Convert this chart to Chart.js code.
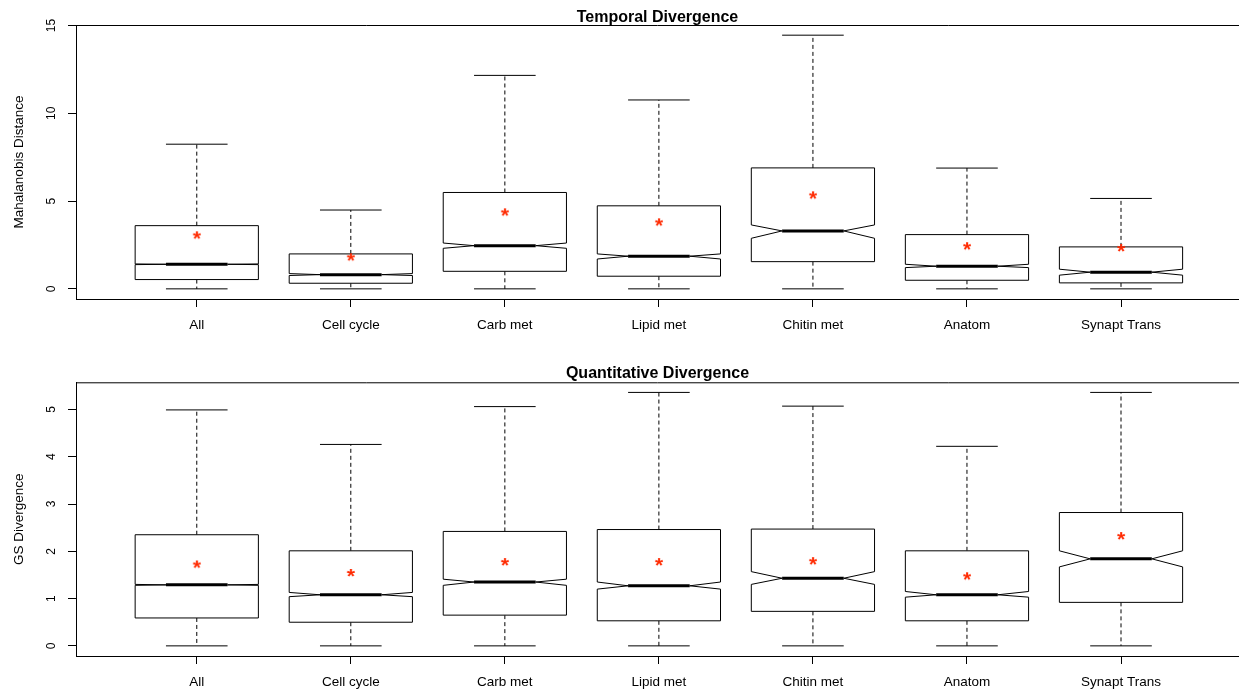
<!DOCTYPE html>
<html>
<head>
<meta charset="utf-8">
<script src="https://cdn.jsdelivr.net/npm/chart.js@4"></script>
<style>
  html, body { margin: 0; padding: 0; background: #fff; overflow: hidden; }
  #wrap { position: relative; width: 1239px; height: 690px; }
  #wrap canvas { position: absolute; left: 0; }
</style>
</head>
<body>
<div id="wrap">
  <canvas id="temporalChart" width="1239" height="345" style="top:0"></canvas>
  <canvas id="quantChart" width="1239" height="345" style="top:345px"></canvas>
</div>
<script>
const categories = ['All', 'Cell cycle', 'Carb met', 'Lipid met', 'Chitin met', 'Anatom', 'Synapt Trans'];

// Temporal Divergence (Mahalanobis Distance)
const tMin     = [0, 0, 0, 0, 0, 0, 0];
const tQ1      = [0.53, 0.32, 1.00, 0.72, 1.55, 0.49, 0.34];
const tNotchLo = [1.38, 0.76, 2.31, 1.70, 2.88, 1.21, 0.78];
const tMedian  = [1.40, 0.81, 2.46, 1.86, 3.30, 1.29, 0.95];
const tNotchHi = [1.42, 0.87, 2.61, 1.99, 3.64, 1.40, 1.12];
const tQ3      = [3.60, 1.99, 5.49, 4.73, 6.89, 3.09, 2.39];
const tMax     = [8.24, 4.49, 12.16, 10.76, 14.45, 6.88, 5.15];
const tMean    = [2.99, 1.74, 4.30, 3.73, 5.27, 2.37, 2.27];
const tTicks   = [0, 5, 10, 15];

// Quantitative Divergence (GS Divergence)
const qMin     = [0, 0, 0, 0, 0, 0, 0];
const qQ1      = [0.59, 0.50, 0.65, 0.53, 0.73, 0.53, 0.92];
const qNotchLo = [1.28, 1.04, 1.28, 1.20, 1.30, 1.03, 1.67];
const qMedian  = [1.29, 1.08, 1.35, 1.27, 1.43, 1.08, 1.84];
const qNotchHi = [1.30, 1.13, 1.41, 1.35, 1.57, 1.15, 2.01];
const qQ3      = [2.35, 2.01, 2.42, 2.46, 2.47, 2.01, 2.82];
const qMax     = [4.99, 4.26, 5.06, 5.36, 5.07, 4.22, 5.36];
const qMean    = [1.70, 1.52, 1.75, 1.75, 1.77, 1.45, 2.30];
const qTicks   = [0, 1, 2, 3, 4, 5];

const FONT = '"Liberation Sans", Arial, Helvetica, sans-serif';
Chart.defaults.font.family = FONT;
Chart.defaults.color = '#000';

// red asterisk used as the mean marker
function makeStar() {
  const c = document.createElement('canvas');
  c.width = 20; c.height = 20;
  const g = c.getContext('2d');
  g.font = 'bold 21px ' + FONT;
  g.fillStyle = '#ff2a00';
  g.textAlign = 'center';
  g.textBaseline = 'alphabetic';
  const m = g.measureText('*');
  const base = 10 + (m.actualBoundingBoxAscent - m.actualBoundingBoxDescent) / 2 - 1.5;
  g.fillText('*', 10, base);
  return c;
}
const star = makeStar();

const notchedBoxes = {
  id: 'notchedBoxes',
  beforeDatasetsDraw(chart, args, opts) {
    const { ctx, chartArea, scales: { x, y } } = chart;
    const s = opts.stats;
    const py = v => y.getPixelForValue(v);
    ctx.save();
    ctx.strokeStyle = '#000';
    s.median.forEach((m, i) => {
      const p = i + 1;
      const xl = x.getPixelForValue(p - 0.4), xr = x.getPixelForValue(p + 0.4);
      const il = x.getPixelForValue(p - 0.2), ir = x.getPixelForValue(p + 0.2);
      const xc = x.getPixelForValue(p);
      // whiskers
      ctx.lineWidth = 1;
      ctx.setLineDash([4, 3]);
      ctx.beginPath();
      ctx.moveTo(xc, py(s.q3[i])); ctx.lineTo(xc, py(s.max[i]));
      ctx.moveTo(xc, py(s.q1[i])); ctx.lineTo(xc, py(s.min[i]));
      ctx.stroke();
      ctx.setLineDash([]);
      ctx.beginPath();
      ctx.moveTo(il, py(s.max[i])); ctx.lineTo(ir, py(s.max[i]));
      ctx.moveTo(il, py(s.min[i])); ctx.lineTo(ir, py(s.min[i]));
      ctx.stroke();
      // notched box
      ctx.beginPath();
      ctx.moveTo(xl, py(s.q1[i]));
      ctx.lineTo(xl, py(s.lo[i]));
      ctx.lineTo(il, py(m));
      ctx.lineTo(xl, py(s.hi[i]));
      ctx.lineTo(xl, py(s.q3[i]));
      ctx.lineTo(xr, py(s.q3[i]));
      ctx.lineTo(xr, py(s.hi[i]));
      ctx.lineTo(ir, py(m));
      ctx.lineTo(xr, py(s.lo[i]));
      ctx.lineTo(xr, py(s.q1[i]));
      ctx.closePath();
      ctx.fillStyle = '#fff';
      ctx.fill();
      ctx.stroke();
      // median
      ctx.lineWidth = 3;
      ctx.beginPath();
      ctx.moveTo(il, py(m)); ctx.lineTo(ir, py(m));
      ctx.stroke();
    });
    // top frame line
    ctx.lineWidth = 1;
    ctx.beginPath();
    ctx.moveTo(chartArea.left, chartArea.top + 0.5);
    ctx.lineTo(chartArea.right, chartArea.top + 0.5);
    ctx.stroke();
    ctx.restore();
  },
  afterDraw(chart, args, opts) {
    // rotated y tick labels, R style
    const { ctx, scales: { y } } = chart;
    ctx.save();
    ctx.font = '12px ' + FONT;
    ctx.fillStyle = '#000';
    ctx.textAlign = 'center';
    ctx.textBaseline = 'middle';
    y.ticks.forEach(t => {
      ctx.save();
      ctx.translate(opts.labelX, y.getPixelForValue(t.value));
      ctx.rotate(-Math.PI / 2);
      ctx.fillText(String(t.value), 0, 0);
      ctx.restore();
    });
    ctx.restore();
  }
};

function boxChart(id, cfg) {
  const ctx = document.getElementById(id).getContext('2d');
  return new Chart(ctx, {
    type: 'scatter',
    data: {
      datasets: [{
        data: cfg.mean.map((v, i) => ({ x: i + 1, y: v })),
        pointStyle: star,
        pointRadius: 5,
        pointHoverRadius: 5
      }]
    },
    plugins: [notchedBoxes],
    options: {
      responsive: false,
      animation: false,
      layout: { padding: 0, autoPadding: false },
      plugins: {
        legend: { display: false },
        tooltip: { enabled: false },
        title: {
          display: true,
          text: cfg.title,
          fullSize: false,
          color: '#000',
          font: { size: 16, weight: 'bold', lineHeight: 0.875 },
          padding: { top: cfg.titleTop, bottom: cfg.titleBottom }
        },
        notchedBoxes: { stats: cfg.stats, labelX: 52 }
      },
      scales: {
        x: {
          type: 'linear',
          min: 0.216,
          max: 7.766,
          afterBuildTicks: s => { s.ticks = categories.map((c, i) => ({ value: i + 1 })); },
          afterFit: s => { s.height = cfg.xAxisHeight; s.paddingLeft = 0; s.paddingRight = 0; },
          ticks: {
            callback: v => categories[v - 1],
            font: { size: 13.5 },
            color: '#000',
            padding: 10,
            maxRotation: 0,
            autoSkip: false
          },
          grid: { drawOnChartArea: false, drawTicks: true, tickLength: 8, color: '#000' },
          border: { display: true, color: '#000', width: 1 }
        },
        y: {
          type: 'linear',
          min: cfg.yMin,
          max: cfg.yMax,
          afterBuildTicks: s => { s.ticks = cfg.ticks.map(v => ({ value: v })); },
          afterFit: s => { s.width = 76; s.paddingTop = 0; s.paddingBottom = 0; },
          ticks: { display: false },
          grid: { drawOnChartArea: false, drawTicks: true, tickLength: 8, color: '#000' },
          border: { display: true, color: '#000', width: 1 },
          title: {
            display: true,
            text: cfg.yTitle,
            color: '#000',
            font: { size: 13.5 },
            padding: { top: 11, bottom: 0 }
          }
        }
      }
    }
  });
}

boxChart('temporalChart', {
  title: 'Temporal Divergence',
  yTitle: 'Mahalanobis Distance',
  titleTop: 11, titleBottom: 0,
  xAxisHeight: 46,
  yMin: -0.578, yMax: 15.03,
  ticks: tTicks,
  mean: tMean,
  stats: { min: tMin, q1: tQ1, lo: tNotchLo, median: tMedian, hi: tNotchHi, q3: tQ3, max: tMax }
});

boxChart('quantChart', {
  title: 'Quantitative Divergence',
  yTitle: 'GS Divergence',
  titleTop: 21.8, titleBottom: 1.5,
  xAxisHeight: 34,
  yMin: -0.2144, yMax: 5.574,
  ticks: qTicks,
  mean: qMean,
  stats: { min: qMin, q1: qQ1, lo: qNotchLo, median: qMedian, hi: qNotchHi, q3: qQ3, max: qMax }
});
</script>
</body>
</html>
